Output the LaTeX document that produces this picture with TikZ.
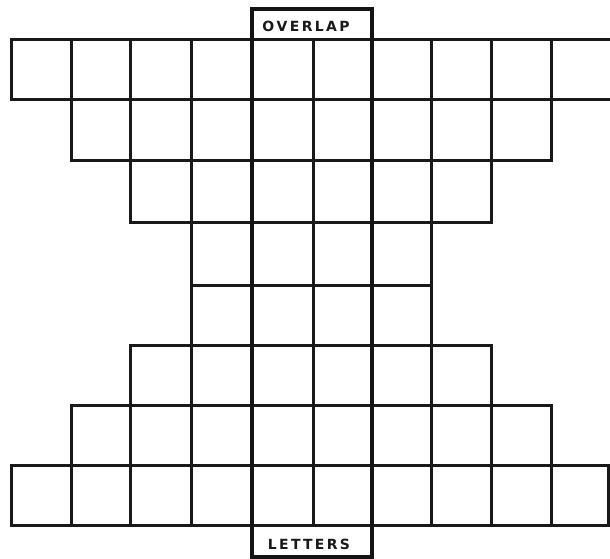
\documentclass[tikz,border=0pt]{standalone}
\usepackage{fontspec}
\setsansfont{DejaVu Sans}
\begin{document}
\begin{tikzpicture}[x=1pt,y=-1pt,
  gridline/.style={line width=3pt,line cap=rect,line join=miter,black!90},
  overlapbox/.style={line width=4pt,line join=miter,black!92},
  hand/.style={font=\sffamily\bfseries\fontsize{14}{14}\selectfont,inner sep=0pt,black!90}]
\useasboundingbox (0,0) rectangle (610,559);
% column positions
\def\cols{{11,71,130,191,252,313,371,431,491,551,608}}
% rows: top, bottom, first column, last column
\foreach \yt/\yb/\a/\b in {100/160/1/9, 160/222/2/8, 222/285/3/7, 285/345/3/7,
                           345/405/2/8, 405/465/1/9, 465/525/0/10}{
  \pgfmathsetmacro{\xa}{\cols[\a]}
  \pgfmathsetmacro{\xb}{\cols[\b]}
  \draw[gridline] (\xa,\yt) -- (\xb,\yt);
  \draw[gridline] (\xa,\yb) -- (\xb,\yb);
  \foreach \i in {\a,...,\b}{
    \pgfmathsetmacro{\xi}{\cols[\i]}
    \draw[gridline] (\xi,\yt) -- (\xi,\yb);
  }
}
% top row runs off the right edge
\draw[gridline,line cap=butt] (11,40) -- (610,40);
\draw[gridline,line cap=butt] (11,100) -- (610,100);
\foreach \i in {0,...,9}{
  \pgfmathsetmacro{\xi}{\cols[\i]}
  \draw[gridline] (\xi,40) -- (\xi,100);
}
% overlap column
\draw[overlapbox] (252,9) rectangle (372,557);
\node[hand] (overlap) at (306,26) {O\,V\,E\,R\,L\,A\,P};
\node[hand] (letters) at (309,544) {L\,E\,T\,T\,E\,R\,S};
\end{tikzpicture}
\end{document}
